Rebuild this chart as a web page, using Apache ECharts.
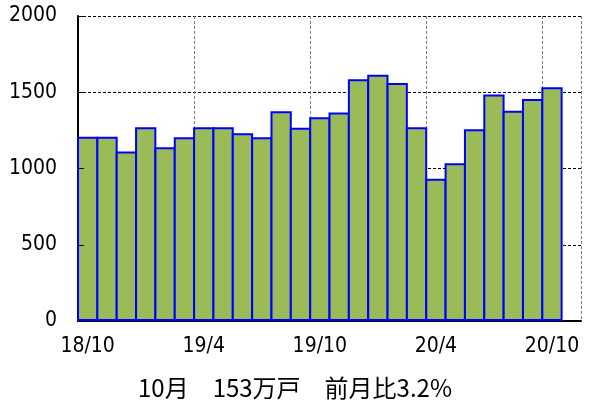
<!DOCTYPE html>
<html>
<head>
<meta charset="utf-8">
<script src="https://cdn.jsdelivr.net/npm/echarts@6/dist/echarts.min.js"></script>
<style>
html,body{margin:0;padding:0;background:#fff;}
#c{width:590px;height:403px;}
</style>
</head>
<body>
<div id="c"></div>
<script>
const categories = ["18/10","18/11","18/12","19/1","19/2","19/3","19/4","19/5","19/6","19/7","19/8","19/9","19/10","19/11","19/12","20/1","20/2","20/3","20/4","20/5","20/6","20/7","20/8","20/9","20/10",""];
const values = [1209,1209,1111,1271,1140,1205,1271,1271,1231,1205,1376,1268,1336,1367,1586,1614,1560,1271,932,1035,1258,1485,1378,1455,1533];
const yTicks = [0,500,1000,1500,2000];
const caption = "10月　153万戸　前月比3.2%";

const labelFont = {fontFamily:"DejaVu Sans Condensed", fontSize:21, color:"#000"};
const chart = echarts.init(document.getElementById('c'), null, {renderer:'canvas'});
chart.setOption({
  animation:false,
  backgroundColor:'#fff',
  grid:{left:78, right:9, top:16, bottom:82, containLabel:false},
  title:{text:caption, left:'center', top:370,
    textStyle:{fontFamily:"Noto Sans CJK JP", fontSize:24, lineHeight:26, fontWeight:'normal', color:'#000'}},
  xAxis:{
    type:'category', data:categories, boundaryGap:true,
    axisLine:{show:true, lineStyle:{color:'#000', width:2}},
    axisTick:{show:false},
    axisLabel:Object.assign({interval:5, margin:15}, labelFont),
    splitLine:{show:true, interval:function(i){return i>0 && i%6===0;},
      lineStyle:{color:'#808080', width:1, type:[3,2]}}
  },
  yAxis:[{
    type:'value', min:yTicks[0], max:yTicks[yTicks.length-1], interval:500,
    axisLine:{show:true, lineStyle:{color:'#000', width:2}},
    axisTick:{show:false},
    axisLabel:Object.assign({margin:21, formatter:function(v){return String(v);}}, labelFont),
    splitLine:{show:true, lineStyle:{color:'#000', width:1, type:[3,2]}}
  },{
    type:'value', min:yTicks[0], max:yTicks[yTicks.length-1], interval:500, position:'left', z:10,
    axisLine:{show:false},
    axisTick:{show:true, inside:true, length:6, lineStyle:{color:'#000', width:1}},
    axisLabel:{show:false},
    splitLine:{show:false}
  }],
  series:[{
    type:'bar', data:values, barWidth:'110%',
    itemStyle:{color:'#9bbb59', borderColor:'#0000ff', borderWidth:2}
  }]
});
</script>
</body>
</html>
